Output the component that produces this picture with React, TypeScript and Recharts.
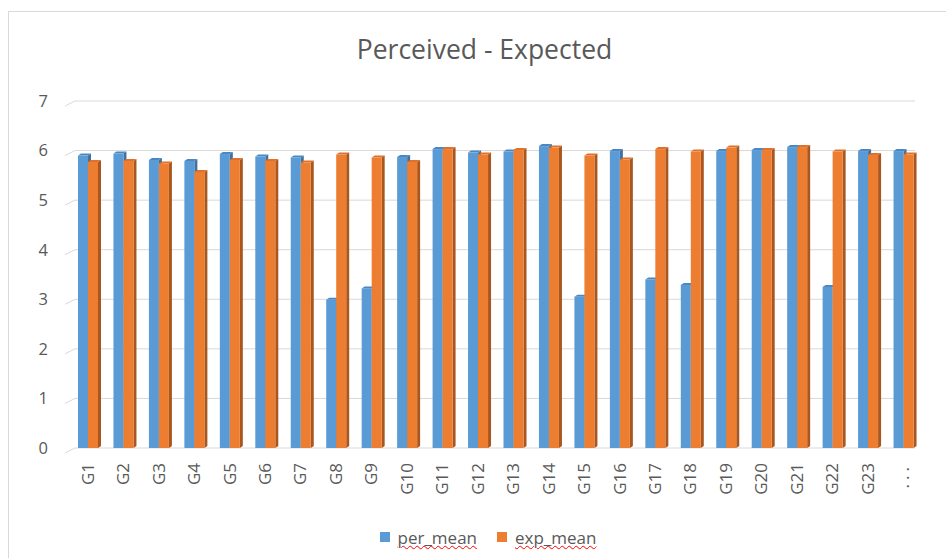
import { BarChart, Bar, XAxis, YAxis, CartesianGrid, Legend } from "recharts";

const categories = [
  "G1", "G2", "G3", "G4", "G5", "G6", "G7", "G8", "G9", "G10", "G11", "G12",
  "G13", "G14", "G15", "G16", "G17", "G18", "G19", "G20", "G21", "G22", "G23", "...",
];
const perMean = [
  5.9, 5.94, 5.81, 5.79, 5.93, 5.88, 5.86, 2.99, 3.22, 5.87, 6.03, 5.96,
  5.98, 6.09, 3.05, 5.99, 3.4, 3.29, 5.99, 6.01, 6.07, 3.25, 5.99, 5.99,
];
const expMean = [
  5.77, 5.79, 5.74, 5.57, 5.81, 5.79, 5.76, 5.92, 5.86, 5.77, 6.03, 5.92,
  6.01, 6.06, 5.9, 5.82, 6.03, 5.98, 6.06, 6.01, 6.07, 5.98, 5.91, 5.92,
];
const yTicks = [0, 1, 2, 3, 4, 5, 6, 7];

const data = categories.map((name, i) => ({
  name,
  per_mean: perMean[i],
  exp_mean: expMean[i],
}));

const TEXT = "#595959";
const FONT = "'Open Sans', sans-serif";

// front face + darker side + cap, to fake the excel 3d look
function Box3D(props: any) {
  const { x, y, width, height, front, side, cap } = props;
  if (height <= 0) return null;
  const d = 3;
  const r = 2;
  return (
    <g>
      <polygon
        points={`${x + width},${y} ${x + width + d},${y - r} ${x + width + d},${y + height - r} ${x + width},${y + height}`}
        fill={side}
      />
      <polygon
        points={`${x},${y} ${x + d},${y - r} ${x + width + d},${y - r} ${x + width},${y}`}
        fill={cap}
      />
      <rect x={x} y={y} width={width} height={height} fill={front} />
    </g>
  );
}

function GridLine(p: any) {
  const { x1, x2, y1 } = p;
  return (
    <g key={p.key}>
      <line x1={x1 - 5} y1={y1 + 5} x2={x1 + 5} y2={y1} stroke="#d9d9d9" />
      <line x1={x1 + 5} y1={y1} x2={x2 - 6} y2={y1} stroke="#d9d9d9" />
    </g>
  );
}

function XTick(p: any) {
  const { x, y, payload } = p;
  return (
    <text
      x={x}
      y={y}
      transform={`rotate(-90, ${x}, ${y})`}
      textAnchor="end"
      dy="0.35em"
      fill={TEXT}
      fontSize={17}
      fontFamily={FONT}
      letterSpacing={payload.value === "..." ? 4 : 0}
    >
      {payload.value}
    </text>
  );
}

function LegendBox() {
  const items = [
    { label: "per_mean", color: "#5b9bd5" },
    { label: "exp_mean", color: "#ed7d31" },
  ];
  return (
    <div
      style={{
        height: 24,
        display: "flex",
        justifyContent: "center",
        alignItems: "center",
        gap: 20,
        fontFamily: FONT,
        fontSize: 17,
        color: TEXT,
      }}
    >
      {items.map((it) => (
        <div key={it.label} style={{ display: "flex", alignItems: "center" }}>
          <span
            style={{ width: 10, height: 10, background: it.color, marginRight: 8, display: "inline-block" }}
          />
          <span style={{ textDecoration: "underline wavy red", textDecorationThickness: 1 }}>
            {it.label}
          </span>
        </div>
      ))}
    </div>
  );
}

export default function App() {
  return (
    <div
      style={{
        position: "absolute",
        top: 11,
        left: 8,
        width: 938,
        height: 547,
        boxSizing: "border-box",
        borderLeft: "1px solid #d9d9d9",
        borderTop: "1px solid #d9d9d9",
        background: "#fff",
      }}
    >
      <div
        style={{
          position: "absolute",
          top: 22,
          left: 0,
          width: 951,
          textAlign: "center",
          fontFamily: FONT,
          fontSize: 26.5,
          lineHeight: "30px",
          color: TEXT,
        }}
      >
        Perceived - Expected
      </div>
      <BarChart
        width={937}
        height={546}
        data={data}
        margin={{ top: 89, right: 25, left: 21, bottom: 9 }}
        barGap={0}
        barSize={10}
      >
        <CartesianGrid vertical={false} horizontal={GridLine} />
        <XAxis
          dataKey="name"
          interval={0}
          height={77}
          axisLine={false}
          tickLine={false}
          tickMargin={9}
          tick={XTick}
        />
        <YAxis
          domain={[0, 7]}
          ticks={yTicks}
          width={40}
          axisLine={false}
          tickLine={false}
          tickMargin={16}
          tick={{ fill: TEXT, fontSize: 16.5, fontFamily: FONT }}
        />
        <Legend
          verticalAlign="bottom"
          content={<LegendBox />}
          wrapperStyle={{ left: 0, width: 958 }}
        />
        <Bar
          dataKey="per_mean"
          isAnimationActive={false}
          shape={(p: any) => <Box3D {...p} front="#5b9bd5" side="#41719c" cap="#4a88c4" />}
        />
        <Bar
          dataKey="exp_mean"
          isAnimationActive={false}
          shape={(p: any) => <Box3D {...p} front="#ed7d31" side="#a9571f" cap="#e0702a" />}
        />
      </BarChart>
    </div>
  );
}
